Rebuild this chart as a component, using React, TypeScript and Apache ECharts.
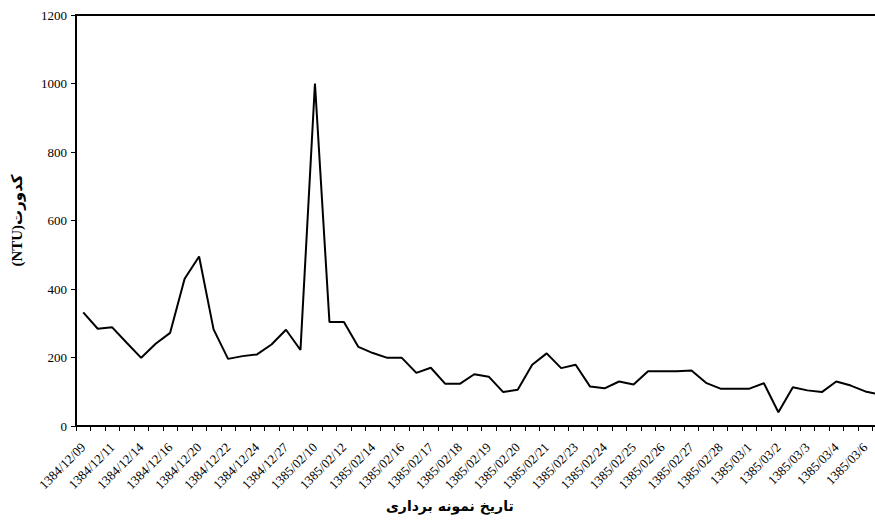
import React, { useEffect, useRef } from "react";
import * as echarts from "echarts";

const xLabels = [
  "1384/12/09", "1384/12/11", "1384/12/14", "1384/12/16", "1384/12/20", "1384/12/22",
  "1384/12/24", "1384/12/27", "1385/02/10", "1385/02/12", "1385/02/14", "1385/02/16",
  "1385/02/17", "1385/02/18", "1385/02/19", "1385/02/20", "1385/02/21", "1385/02/23",
  "1385/02/24", "1385/02/25", "1385/02/26", "1385/02/27", "1385/02/28", "1385/03/1",
  "1385/03/2", "1385/03/3", "1385/03/4", "1385/03/6",
];

const turbidity = [
  332, 284, 288, 243, 199, 240, 272, 430, 495, 282, 196, 204, 209, 238, 281, 222,
  1000, 304, 304, 231, 213, 199, 199, 155, 170, 123, 123, 151, 144, 99, 106, 179,
  212, 169, 179, 115, 110, 130, 121, 160, 160, 160, 162, 126, 109, 109, 109, 125,
  40, 113, 104, 99, 130, 118, 101, 92,
];

const yTicks = [0, 200, 400, 600, 800, 1000, 1200];

const yAxisTitle = "کدورت(NTU)";
const xAxisTitle = "تاریخ نمونه برداری";

const categories = turbidity.map((_, i) => String(i));

export default function App() {
  const ref = useRef<HTMLDivElement>(null);
  useEffect(() => {
    if (!ref.current) return;
    const chart = echarts.init(ref.current, null, { renderer: "svg" });
    const font = "Times New Roman, Liberation Serif, DejaVu Serif, serif";
    chart.setOption({
      animation: false,
      backgroundColor: "#ffffff",
      textStyle: { fontFamily: font },
      grid: {
        left: 76,
        right: 0,
        top: 15,
        bottom: 98,
        show: true,
        borderColor: "#000",
        borderWidth: 2,
        backgroundColor: "transparent",
      },
      xAxis: {
        type: "category",
        data: categories,
        boundaryGap: true,
        axisLine: { lineStyle: { color: "#000", width: 2 } },
        axisTick: { show: true, interval: 0, length: 5, lineStyle: { color: "#000", width: 1 } },
        axisLabel: {
          interval: 1,
          rotate: 45,
          margin: 19,
          color: "#000",
          fontFamily: font,
          fontSize: 13,
          formatter: (v: string) => {
            const i = Number(v);
            return i % 2 === 0 ? xLabels[i / 2] : "";
          },
        },
        splitLine: { show: false },
      },
      yAxis: {
        type: "value",
        min: yTicks[0],
        max: yTicks[yTicks.length - 1],
        interval: yTicks[1] - yTicks[0],
        name: "\u202B" + yAxisTitle + "\u202C",
        nameLocation: "middle",
        nameGap: 52,
        nameRotate: 90,
        nameTextStyle: {
          color: "#000",
          fontFamily: "Times New Roman, Liberation Serif, DejaVu Sans, serif",
          fontWeight: "bold",
          fontSize: 15,
        },
        axisLine: { show: true, lineStyle: { color: "#000", width: 2 } },
        axisTick: { show: true, length: 5, lineStyle: { color: "#000", width: 1 } },
        axisLabel: {
          color: "#000",
          fontFamily: font,
          fontSize: 13,
          margin: 9,
          formatter: (v: number) => String(v),
        },
        splitLine: { show: false },
      },
      graphic: [
        {
          type: "text",
          left: 386,
          top: 499,
          style: {
            text: xAxisTitle,
            fill: "#000",
            fontFamily: "DejaVu Sans",
            fontWeight: "bold",
            fontSize: 14,
          },
        },
      ],
      series: [
        {
          type: "line",
          data: turbidity,
          showSymbol: false,
          symbol: "none",
          lineStyle: { color: "#000", width: 2 },
          itemStyle: { color: "#000" },
        },
      ],
    });
    return () => chart.dispose();
  }, []);
  return (
    <div
      style={{ position: "fixed", left: 0, top: 0, width: 875, height: 524, overflow: "hidden", background: "#fff" }}
    >
      <div ref={ref} style={{ width: 887, height: 524 }} />
    </div>
  );
}
